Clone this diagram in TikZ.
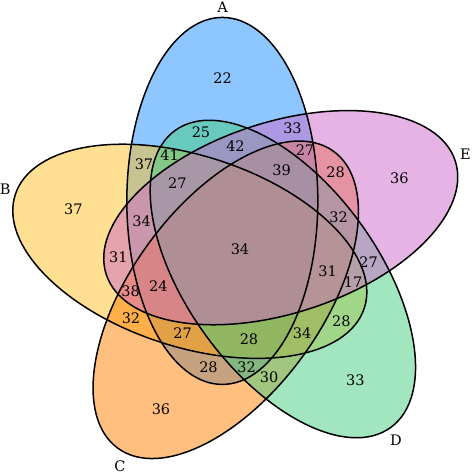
\documentclass[tikz,border=0pt]{standalone}
\usepackage{fontspec}
\setmainfont{DejaVu Serif}
\definecolor{colA}{RGB}{30,144,255}
\definecolor{colB}{RGB}{255,193,37}
\definecolor{colC}{RGB}{255,127,0}
\definecolor{colD}{RGB}{67,205,128}
\definecolor{colE}{RGB}{205,105,201}
\begin{document}
\begin{tikzpicture}[x=1pt,y=-1pt,
  setfill/.style={fill=#1, fill opacity=0.5},
  rim/.style={draw=black, line width=1.5pt},
  num/.style={inner sep=0pt, font=\fontsize{14.5}{17}\selectfont},
  setname/.style={inner sep=0pt, font=\fontsize{14.5}{17}\selectfont}]
\useasboundingbox (0,0) rectangle (472,474);
% fills
\foreach \cx/\cy/\r/\c in {222.32/200.92/0/colA, 189.8/251.30/72/colB, 225.75/299.8/144/colC, 282.86/279.0/216/colD, 280.74/217.67/288/colE} {
  \fill[setfill=\c] (\cx,\cy) ellipse [x radius=95.5pt, y radius=183.5pt, rotate=\r];
}
% outlines
\foreach \cx/\cy/\r in {222.32/200.92/0, 189.8/251.30/72, 225.75/299.8/144, 282.86/279.0/216, 280.74/217.67/288} {
  \draw[rim] (\cx,\cy) ellipse [x radius=95.5pt, y radius=183.5pt, rotate=\r];
}
% set names
\node[setname] (nA) at (222.7,6.9) {A};
\node[setname] (nB) at (5.2,189) {B};
\node[setname] (nC) at (120,465.8) {C};
\node[setname] (nD) at (396,440) {D};
\node[setname] (nE) at (465.5,154) {E};
% region counts
\node[num] (r1) at (222.7,78.3) {22};
\node[num] (r2) at (73.3,209.3) {37};
\node[num] (r3) at (161,409) {36};
\node[num] (r4) at (355.3,380.7) {33};
\node[num] (r5) at (399.3,178.3) {36};
\node[num] (r6) at (201,132.7) {25};
\node[num] (r7) at (292.5,128.3) {33};
\node[num] (r8) at (235.5,146) {42};
\node[num] (r9) at (305,150.3) {27};
\node[num] (r10) at (169.7,155.3) {41};
\node[num] (r11) at (144,164) {37};
\node[num] (r12) at (281.7,170) {39};
\node[num] (r13) at (335.5,172) {28};
\node[num] (r14) at (177.3,182.7) {27};
\node[num] (r15) at (141.7,221) {34};
\node[num] (r16) at (338.5,217) {32};
\node[num] (r17) at (240,249.3) {34};
\node[num] (r18) at (118.3,257.7) {31};
\node[num] (r19) at (368.5,262) {27};
\node[num] (r20) at (327.5,271.7) {31};
\node[num] (r21) at (353,282) {17};
\node[num] (r22) at (158.3,285.7) {24};
\node[num] (r23) at (130.7,291) {38};
\node[num] (r24) at (131,318) {32};
\node[num] (r25) at (341.3,321.3) {28};
\node[num] (r26) at (182.7,333.5) {27};
\node[num] (r27) at (249,339) {28};
\node[num] (r28) at (302.2,333.3) {34};
\node[num] (r29) at (208.5,367) {28};
\node[num] (r30) at (246.7,367) {32};
\node[num] (r31) at (269.2,377.5) {30};
\end{tikzpicture}
\end{document}
